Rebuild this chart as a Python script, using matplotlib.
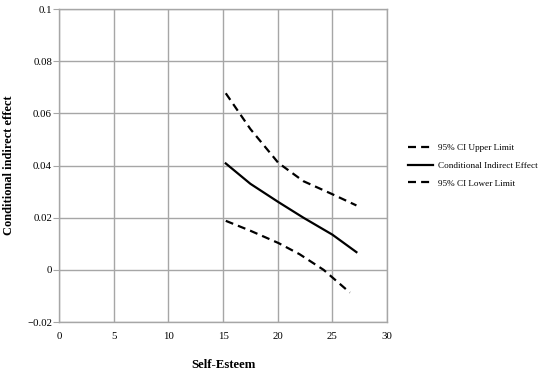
import matplotlib
matplotlib.use("Agg")
import matplotlib.pyplot as plt

# values
self_esteem = [15.25, 17.5, 20.06, 22.35, 25.0, 27.2]
upper_ci = [0.0677, 0.0540, 0.0410, 0.0340, 0.0290, 0.0247]
indirect = [0.0408, 0.0330, 0.0260, 0.0200, 0.0135, 0.0068]
lower_x = [15.25, 17.5, 20.06, 22.0, 24.2, 26.6]
lower_ci = [0.0188, 0.0150, 0.0103, 0.0060, 0.0000, -0.0087]

x_ticks = [0, 5, 10, 15, 20, 25, 30]
y_ticks = [-0.02, 0, 0.02, 0.04, 0.06, 0.08, 0.1]
y_labels = ["\u22120.02", "0", "0.02", "0.04", "0.06", "0.08", "0.1"]

plt.rcParams['font.family'] = ['Liberation Serif', 'DejaVu Serif']

fig = plt.figure(figsize=(5.5, 3.71), dpi=100)
ax = fig.add_axes([0.1073, 0.132, 0.5964, 0.8437])

dash = (0, (3.6, 2.3))
ax.plot(self_esteem, upper_ci, color='black', lw=1.6, linestyle=dash, label="95% CI Upper Limit")
ax.plot(self_esteem, indirect, color='black', lw=1.6, label="Conditional Indirect Effect")
ax.plot(lower_x, lower_ci, color='black', lw=1.6, linestyle=dash, label="95% CI Lower Limit")

ax.set_xlim(0, 30)
ax.set_ylim(-0.02, 0.1)
ax.set_xticks(x_ticks)
ax.set_yticks(y_ticks)
ax.set_yticklabels(y_labels)
ax.grid(True, color='#a6a6a6', lw=1)
ax.set_axisbelow(True)
for s in ax.spines.values():
    s.set_color('#a6a6a6')
    s.set_linewidth(1)
ax.tick_params(axis='y', length=4, color='#a6a6a6', labelsize=7.8, pad=1)
ax.tick_params(axis='x', length=0, labelsize=7.8, pad=7)

ax.set_xlabel("Self-Esteem", fontsize=9.2, fontweight='bold', labelpad=13)
ax.set_ylabel("Conditional indirect effect", fontsize=8.9, fontweight='bold', labelpad=9)

fig.legend(loc='center left', bbox_to_anchor=(408 / 550, 0.553), frameon=False,
           fontsize=6.6, handlelength=2.7, handletextpad=0.55, labelspacing=1.0,
           borderpad=0, borderaxespad=0)

fig.savefig("out.png", dpi=100)
